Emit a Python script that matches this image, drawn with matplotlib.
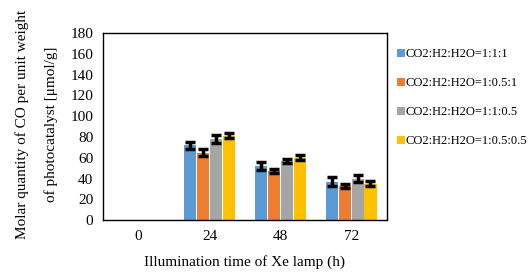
import matplotlib.pyplot as plt
import numpy as np

plt.rcParams["font.family"] = ["Liberation Serif", "DejaVu Serif"]

hours = ["0", "24", "48", "72"]
series = [
    "CO2:H2:H2O=1:1:1",
    "CO2:H2:H2O=1:0.5:1",
    "CO2:H2:H2O=1:1:0.5",
    "CO2:H2:H2O=1:0.5:0.5",
]
values = [
    [0, 72, 52, 37],
    [0, 65, 47, 33],
    [0, 78, 57, 40],
    [0, 81, 60, 35],
]
errors = [
    [0, 3.5, 4, 4],
    [0, 3, 2, 2],
    [0, 3.5, 2, 3.5],
    [0, 2.5, 2.5, 2.5],
]
colors = ["#5B9BD5", "#ED7D31", "#A5A5A5", "#FFC000"]

fig = plt.figure(figsize=(5.32, 2.79), dpi=100)
ax = fig.add_axes([0.194, 0.211, 0.533, 0.671])

x = np.arange(len(hours))
width = 0.18
for i, (name, vals, errs, c) in enumerate(zip(series, values, errors, colors)):
    pos = x + (i - 1.5) * width
    ax.bar(pos, vals, width * 0.95, color=c, label=name)
    shown = [j for j in range(len(hours)) if vals[j] > 0]
    ax.errorbar(pos[shown], np.array(vals)[shown], yerr=np.array(errs)[shown],
                fmt="none", ecolor="black", elinewidth=2.5, capsize=3.5, capthick=2.5)

ax.set_xlim(-0.5, 3.5)
ax.set_ylim(0, 180)
ax.set_yticks(range(0, 181, 20))
ax.set_xticks(x)
ax.set_xticklabels(hours)
ax.tick_params(length=0, labelsize=11, pad=7)
for s in ax.spines.values():
    s.set_color("black")
    s.set_linewidth(1)

ax.set_xlabel("Illumination time of Xe lamp (h)", fontsize=11, labelpad=9)
ax.set_ylabel("Molar quantity of CO per unit weight\nof photocatalyst [\u03bcmol/g]",
              fontsize=11, linespacing=2.45)
ax.yaxis.set_label_coords(-0.158, 0.51)

ax.legend(loc="upper left", bbox_to_anchor=(0.737, 0.845), bbox_transform=fig.transFigure,
          frameon=False, fontsize=9, handlelength=0.6, handleheight=0.6,
          handletextpad=0.08, labelspacing=1.36, borderaxespad=0)

fig.savefig("out.png", dpi=100)
